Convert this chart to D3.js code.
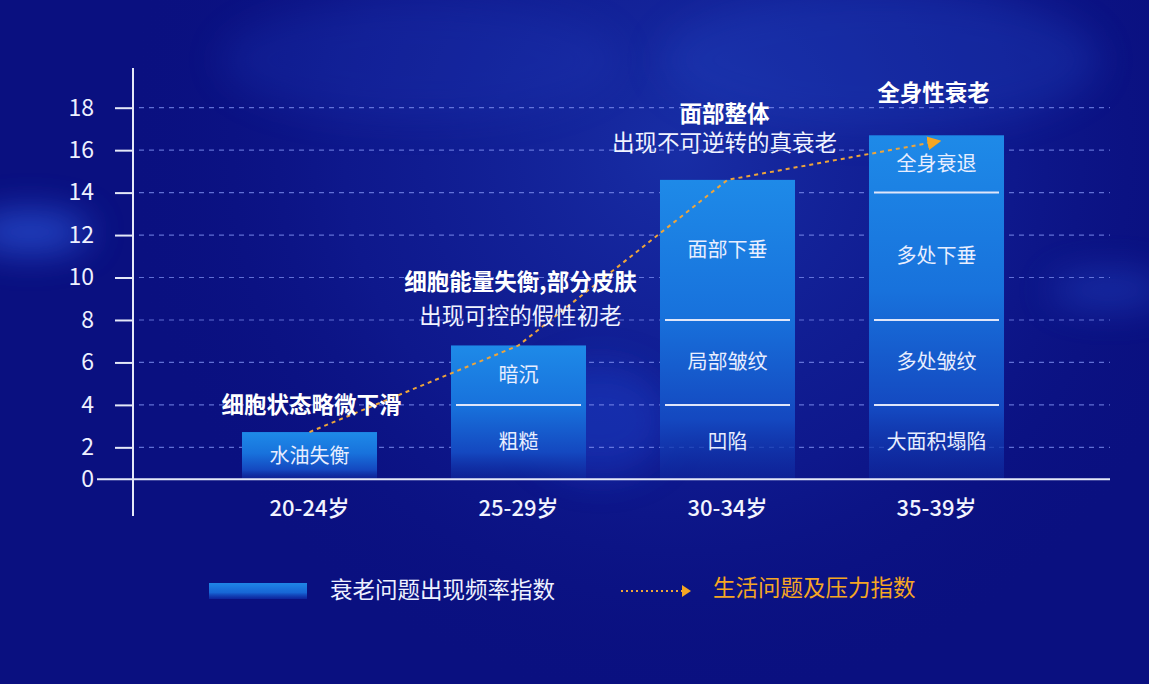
<!DOCTYPE html>
<html>
<head>
<meta charset="utf-8">
<script src="https://cdn.jsdelivr.net/npm/d3@7/dist/d3.min.js"></script>
<style>
  html, body { margin: 0; padding: 0; background: #0a1080; }
  svg { display: block; }
  text { font-family: "Noto Sans CJK SC", "Noto Sans", sans-serif; }
</style>
</head>
<body>
<svg id="chart" width="1149" height="684"></svg>
<script>
// ---------------- data ----------------
const categories = ['20-24岁', '25-29岁', '30-34岁', '35-39岁'];
const barValues = [2.72, 6.8, 14.6, 16.7];      // 衰老问题出现频率指数
const lineValues = [2.72, 6.8, 14.6, 16.4];     // 生活问题及压力指数
const yTickValues = [0, 2, 4, 6, 8, 10, 12, 14, 16, 18];
const segmentBreaks = [[], [4], [4, 8], [4, 8, 14]];
const segmentLabels = [
  ['水油失衡'],
  ['粗糙', '暗沉'],
  ['凹陷', '局部皱纹', '面部下垂'],
  ['大面积塌陷', '多处皱纹', '多处下垂', '全身衰退']
];
const stageTitles = ['细胞状态略微下滑', '细胞能量失衡,部分皮肤', '面部整体', '全身性衰老'];
const stageSubtitles = ['', '出现可控的假性初老', '出现不可逆转的真衰老', ''];
const legendLabels = ['衰老问题出现频率指数', '生活问题及压力指数'];

// ---------------- setup ----------------
const W = 1149, H = 684;
const svg = d3.select('#chart');
const defs = svg.append('defs');

// background
const bgG = defs.append('radialGradient').attr('id', 'bgGlow')
  .attr('gradientUnits', 'userSpaceOnUse').attr('cx', 680).attr('cy', 150).attr('r', 560);
bgG.append('stop').attr('offset', '0%').attr('stop-color', '#2446c4').attr('stop-opacity', 0.55);
bgG.append('stop').attr('offset', '60%').attr('stop-color', '#1a30b0').attr('stop-opacity', 0.25);
bgG.append('stop').attr('offset', '100%').attr('stop-color', '#0a1080').attr('stop-opacity', 0);

const blur = defs.append('filter').attr('id', 'blur')
  .attr('filterUnits', 'userSpaceOnUse').attr('x', -200).attr('y', -200).attr('width', W + 400).attr('height', H + 400);
blur.append('feGaussianBlur').attr('stdDeviation', 18);

svg.append('rect').attr('width', W).attr('height', H).attr('fill', '#0a1080');
svg.append('rect').attr('width', W).attr('height', H).attr('fill', 'url(#bgGlow)');
const deco = svg.append('g').attr('class', 'bg-deco');
deco.append('ellipse').attr('cx', 30).attr('cy', 232).attr('rx', 60).attr('ry', 20)
  .attr('fill', '#3262ea').attr('opacity', 0.65).attr('filter', 'url(#blur)');
deco.append('ellipse').attr('cx', 1110).attr('cy', 290).attr('rx', 60).attr('ry', 18)
  .attr('fill', '#2a55d8').attr('opacity', 0.4).attr('filter', 'url(#blur)');
deco.append('ellipse').attr('cx', 600).attr('cy', 420).attr('rx', 70).attr('ry', 55)
  .attr('fill', '#1e3fc8').attr('opacity', 0.5).attr('filter', 'url(#blur)');
deco.append('ellipse').attr('cx', 880).attr('cy', 60).attr('rx', 220).attr('ry', 70)
  .attr('fill', '#2246c4').attr('opacity', 0.3).attr('filter', 'url(#blur)');
deco.append('ellipse').attr('cx', 420).attr('cy', 60).attr('rx', 200).attr('ry', 60)
  .attr('fill', '#2040c0').attr('opacity', 0.22).attr('filter', 'url(#blur)');

// scales
const x = d3.scaleBand().domain(categories).range([205, 1041]).paddingInner(0.354).paddingOuter(0.177);
const y = d3.scaleLinear().domain([0, 18]).range([489.8, 107.7]);
const baseline = y(0.5);
const axisX = 133;

// bar gradient
const barGrad = defs.append('linearGradient').attr('id', 'barGrad').attr('x1', 0).attr('y1', 0).attr('x2', 0).attr('y2', 1);
barGrad.append('stop').attr('offset', '0%').attr('stop-color', '#1e8ae8');
barGrad.append('stop').attr('offset', '45%').attr('stop-color', '#1872dc');
barGrad.append('stop').attr('offset', '80%').attr('stop-color', '#1448c0');
barGrad.append('stop').attr('offset', '100%').attr('stop-color', '#0f2aa0').attr('stop-opacity', 0.55);

const legGrad = defs.append('linearGradient').attr('id', 'legGrad').attr('x1', 0).attr('y1', 0).attr('x2', 0).attr('y2', 1);
legGrad.append('stop').attr('offset', '0%').attr('stop-color', '#1f86e6');
legGrad.append('stop').attr('offset', '60%').attr('stop-color', '#1766d6');
legGrad.append('stop').attr('offset', '100%').attr('stop-color', '#0f2ca8').attr('stop-opacity', 0.7);

// grid lines
svg.append('g').attr('class', 'grid')
  .selectAll('line').data(yTickValues.filter(d => d > 0)).join('line')
  .attr('x1', 139).attr('x2', 1110)
  .attr('y1', d => y(d)).attr('y2', d => y(d))
  .attr('stroke', '#7d8ff0').attr('stroke-opacity', 0.75)
  .attr('stroke-width', 1.2).attr('stroke-dasharray', '5,5');

// bars
const bars = svg.append('g').attr('class', 'bars');
bars.selectAll('rect').data(categories).join('rect')
  .attr('x', d => x(d))
  .attr('y', (d, i) => y(barValues[i]))
  .attr('width', x.bandwidth())
  .attr('height', (d, i) => baseline - y(barValues[i]))
  .attr('fill', 'url(#barGrad)');

// segment dividers and labels
categories.forEach((c, i) => {
  bars.append('g').selectAll('line').data(segmentBreaks[i]).join('line')
    .attr('x1', x(c) + 5).attr('x2', x(c) + x.bandwidth() - 5)
    .attr('y1', d => y(d)).attr('y2', d => y(d))
    .attr('stroke', '#dfe6fa').attr('stroke-width', 2);
  const bounds = [0.5, ...segmentBreaks[i], barValues[i]];
  bars.append('g').selectAll('text').data(segmentLabels[i]).join('text')
    .attr('x', x(c) + x.bandwidth() / 2)
    .attr('y', (d, k) => y((bounds[k] + bounds[k + 1]) / 2))
    .attr('dy', '0.35em')
    .attr('text-anchor', 'middle')
    .attr('fill', '#e8eeff')
    .attr('font-size', 20)
    .text(d => d);
});

// y axis
const yAxisG = svg.append('g').attr('transform', `translate(${axisX},0)`)
  .call(d3.axisLeft(y).tickValues(yTickValues).tickSize(18).tickPadding(21));
yAxisG.select('.domain').remove();
yAxisG.selectAll('.tick line').attr('stroke', '#e4e8f8').attr('stroke-width', 2);
yAxisG.selectAll('.tick text').attr('fill', '#eef1ff').attr('font-size', 23)
  .attr('font-family', '"Noto Sans CJK SC", "Noto Sans", sans-serif');
yAxisG.selectAll('.tick').filter(d => d === 0)
  .attr('transform', `translate(0,${baseline})`)
  .select('line').remove();
svg.append('line').attr('x1', axisX).attr('x2', axisX).attr('y1', 68).attr('y2', 516)
  .attr('stroke', '#e4e8f8').attr('stroke-width', 2);

// x axis
svg.append('line').attr('x1', 97).attr('x2', 1110).attr('y1', baseline).attr('y2', baseline)
  .attr('stroke', '#e4e8f8').attr('stroke-width', 2);
const xAxisG = svg.append('g').attr('transform', `translate(0,${baseline})`)
  .call(d3.axisBottom(x).tickSize(0).tickPadding(21));
xAxisG.select('.domain').remove();
xAxisG.selectAll('.tick text').attr('fill', '#f2f4ff').attr('font-size', 22).attr('font-weight', 500)
  .attr('font-family', '"Noto Sans CJK SC", "Noto Sans", sans-serif');

// line series
const orange = '#eea53a';
defs.append('marker').attr('id', 'arrow')
  .attr('markerUnits', 'userSpaceOnUse')
  .attr('viewBox', '0 0 14 14').attr('markerWidth', 14).attr('markerHeight', 14)
  .attr('refX', 9).attr('refY', 7).attr('orient', 'auto')
  .append('path').attr('d', 'M0,0 L14,7 L0,14 Z').attr('fill', '#f5a623');

const line = d3.line()
  .x((d, i) => x(categories[i]) + x.bandwidth() / 2)
  .y(d => y(d));
svg.append('path').datum(lineValues)
  .attr('d', line)
  .attr('fill', 'none')
  .attr('stroke', orange)
  .attr('stroke-width', 2)
  .attr('stroke-dasharray', '4,4')
  .attr('marker-end', 'url(#arrow)');

// stage annotations (layout offsets in px relative to bar tops)
const lastLineOffset = [27, 29, 37, 42];
const lineGap = [0, 34, 29, 0];
const xShift = [2, 2, -3, -3];
const ann = svg.append('g').attr('class', 'annotations');
categories.forEach((c, i) => {
  const cx = x(c) + x.bandwidth() / 2 + xShift[i];
  const top = y(barValues[i]);
  const hasSub = stageSubtitles[i] !== '';
  const subY = top - lastLineOffset[i];
  const titleY = hasSub ? subY - lineGap[i] : subY;
  ann.append('text').attr('x', cx).attr('y', titleY).attr('dy', '0.35em')
    .attr('text-anchor', 'middle').attr('fill', '#ffffff')
    .attr('font-size', 22.5).attr('font-weight', 700)
    .text(stageTitles[i]);
  if (hasSub) {
    ann.append('text').attr('x', cx).attr('y', subY).attr('dy', '0.35em')
      .attr('text-anchor', 'middle').attr('fill', '#f0f3ff')
      .attr('font-size', 22.5).attr('font-weight', 400)
      .text(stageSubtitles[i]);
  }
});

// legend
const leg = svg.append('g').attr('class', 'legend');
leg.append('rect').attr('x', 209).attr('y', 583).attr('width', 98).attr('height', 16).attr('fill', 'url(#legGrad)');
leg.append('text').attr('x', 330).attr('y', 590).attr('dy', '0.35em')
  .attr('fill', '#eef1ff').attr('font-size', 22.5).text(legendLabels[0]);
leg.append('line').attr('x1', 621).attr('x2', 682).attr('y1', 591).attr('y2', 591)
  .attr('stroke', orange).attr('stroke-width', 2).attr('stroke-dasharray', '2,3');
leg.append('path').attr('d', 'M682,585 L691,591 L682,597 Z').attr('fill', '#f5a623');
leg.append('text').attr('x', 713).attr('y', 588).attr('dy', '0.35em')
  .attr('fill', '#f5a623').attr('font-size', 22.5).text(legendLabels[1]);
</script>
</body>
</html>
